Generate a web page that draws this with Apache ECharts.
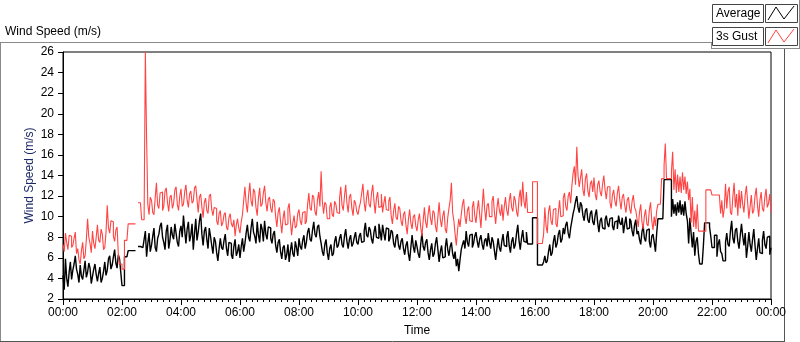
<!DOCTYPE html>
<html>
<head>
<meta charset="utf-8">
<script src="https://cdn.jsdelivr.net/npm/echarts@6/dist/echarts.min.js"></script>
<style>
  html, body { margin: 0; background: #fff; }
  #chart { width: 800px; height: 342px; }
</style>
</head>
<body>
<div id="chart"></div>
<script>
// one reading every 2.5 minutes, 00:00 .. 24:00 (null = gap in the log)
const stepMinutes = 2.5;

const timeLabels = ["00:00", "02:00", "04:00", "06:00", "08:00", "10:00", "12:00",
  "14:00", "16:00", "18:00", "20:00", "22:00", "00:00"];

// one row per hour
const average = [
  4.3, 2.9, 5.9, 4.0, 3.2, 4.6, 5.6, 3.9, 4.8, 5.4, 6.2, 4.9, 4.4, 3.6, 5.3, 4.2, 3.9, 4.8, 5.7, 4.1, 4.6, 5.5, 5.0, 3.5,
  4.2, 4.9, 5.4, 4.4, 3.7, 4.5, 5.1, 3.6, 4.0, 4.7, 5.6, 4.3, 4.8, 5.9, 6.2, 4.9, 5.3, 6.1, 6.8, 5.5, 5.0, 6.3, 5.9, 4.6,
  3.3, 3.3, 6.1, 6.1, 6.1, 6.7, 6.7, 6.7, 6.7, 6.7, 6.7, null, null, 7.1, 7.1, 7.1, 7.0, 7.0, 7.8, 8.6, 6.1, 7.4, 8.4, 6.6,
  7.2, 8.1, 8.9, 7.0, 6.6, 7.9, 8.3, 9.1, 9.4, 8.0, 7.5, 6.8, 8.6, 9.2, 6.9, 7.7, 9.0, 8.2, 7.8, 9.3, 8.4, 7.5, 7.1, 8.6,
  9.1, 8.0, 10.1, 8.7, 7.4, 8.8, 9.5, 7.6, 8.2, 9.3, 6.8, 8.4, 9.8, 7.7, 8.5, 9.6, 10.3, 8.3, 7.2, 8.6, 9.0, 7.8, 6.9, 8.9,
  8.1, 7.2, 6.4, 8.0, 7.6, 6.5, 5.7, 6.9, 7.9, 7.0, 6.8, 7.7, 8.3, 6.9, 6.2, 7.5, 7.4, 6.3, 5.9, 7.1, 7.8, 6.2, 6.6, 7.3,
  6.0, 7.1, 7.9, 6.6, 7.4, 8.4, 9.2, 8.0, 7.6, 8.9, 9.8, 8.5, 8.1, 7.4, 9.5, 8.2, 7.5, 9.3, 8.8, 7.6, 9.6, 8.3, 7.8, 9.0,
  8.9, 7.9, 7.4, 8.3, 8.6, 7.2, 6.5, 7.5, 7.8, 6.6, 5.9, 7.0, 7.2, 5.8, 6.3, 7.3, 5.6, 6.7, 7.5, 6.4, 6.1, 7.6, 7.0, 6.2,
  7.9, 7.1, 6.8, 7.7, 8.2, 6.9, 7.5, 8.5, 8.9, 7.8, 7.6, 8.7, 9.5, 8.3, 8.0, 9.0, 9.2, 8.1, 7.4, 6.6, 6.2, 7.3, 7.8, 6.5,
  5.8, 6.9, 7.3, 6.2, 6.4, 7.6, 8.1, 7.0, 7.2, 7.9, 8.3, 7.3, 7.0, 8.1, 8.8, 7.6, 6.9, 7.8, 8.2, 7.1, 7.4, 8.0, 8.5, 7.5,
  7.3, 8.1, 8.4, 7.5, 7.6, 8.6, 9.4, 8.2, 8.0, 9.0, 8.7, 7.8, 7.4, 8.5, 9.1, 8.0, 7.9, 9.3, 8.6, 7.7, 9.2, 8.4, 7.7, 8.9,
  8.8, 7.6, 7.9, 8.7, 8.5, 7.4, 7.0, 8.0, 8.3, 7.2, 6.8, 7.6, 7.9, 6.9, 6.3, 7.2, 7.6, 6.4, 5.7, 7.0, 8.2, 7.1, 6.5, 7.7,
  7.1, 6.4, 6.0, 7.3, 8.4, 7.1, 6.7, 7.5, 7.8, 6.5, 5.8, 6.8, 7.4, 6.1, 6.4, 7.4, 8.0, 6.8, 5.6, 6.6, 7.2, 6.0, 6.1, 7.0,
  7.9, 6.8, 6.2, 7.1, 7.5, 6.4, 5.9, 6.6, 5.2, 5.9, 4.7, 5.8, 6.8, 7.3, 7.7, 6.9, 8.6, 7.5, 7.1, 8.2, 8.3, 7.0, 7.4, 8.1,
  8.5, 7.6, 7.0, 7.8, 8.2, 7.3, 6.8, 7.7, 7.9, 7.1, 8.4, 7.5, 6.9, 8.0, 7.6, 6.7, 5.8, 6.9, 7.9, 7.0, 6.6, 7.6, 8.3, 7.2,
  7.1, 8.0, 8.6, 7.2, 6.5, 7.6, 8.0, 6.9, 7.3, 8.4, 9.2, 7.7, 6.8, 7.9, 8.7, 7.6, 7.5, 8.5, 7.35, 7.35, 7.35, 7.35, 9.9, 9.9,
  9.9, 9.9, 5.3, 5.3, 5.3, 5.3, 5.3, 5.6, 6.2, 5.5, 5.7, 6.6, 7.3, 6.2, 6.5, 7.6, 8.2, 7.0, 7.4, 8.3, 8.7, 7.5, 7.8, 8.9,
  8.3, 9.2, 9.5, 8.4, 7.9, 8.9, 9.6, 10.3, 10.8, 11.5, 12.0, 10.9, 10.4, 11.4, 11.1, 10.1, 9.6, 10.6, 10.8, 9.7, 9.4, 10.3, 10.6, 9.5,
  9.2, 10.2, 10.7, 9.4, 8.5, 9.6, 9.9, 8.9, 8.8, 9.7, 10.1, 9.3, 9.0, 9.8, 9.9, 9.1, 8.7, 9.5, 9.6, 8.8, 10.1, 9.4, 9.2, 9.9,
  8.4, 9.3, 10.0, 8.8, 8.9, 9.8, 9.6, 8.6, 8.1, 9.2, 9.7, 8.3, 8.6, 7.8, 7.3, 8.5, 9.1, 7.9, 7.6, 8.7, 8.8, 7.6, 7.0, 8.1,
  8.3, 7.5, 6.6, 8.4, 9.8, 9.8, 9.8, 9.8, 9.8, 13.6, 13.6, 13.6, 13.6, 13.6, 13.6, 10.0, 11.7, 10.3, 11.2, 10.1, 11.4, 10.4, 11.6, 10.2,
  11.2, 10.1, 11.5, 10.3, 9.6, 7.4, 9.9, 8.4, 7.0, 8.5, 6.2, 7.6, 8.0, 6.4, 5.4, 5.4, 5.4, 7.2, 9.4, 9.4, 9.4, 9.4, 9.0, 8.1,
  7.0, 7.0, 8.2, 8.2, 6.1, 7.3, 7.8, 6.6, 6.4, 5.7, 5.7, 7.5, 8.4, 7.3, 7.1, 8.6, 9.6, 7.9, 7.4, 8.7, 8.9, 7.6, 6.9, 8.2,
  9.3, 8.1, 7.2, 8.4, 6.0, 7.1, 8.5, 7.3, 6.6, 7.8, 8.8, 7.2, 5.8, 6.9, 7.9, 6.5, 6.4, 7.7, 8.6, 7.3, 6.9, 8.0, 8.1, 6.3,
  7.0
];

const gust = [
  7.3, 6.6, 8.4, 7.5, 6.8, 8.2, 8.1, 7.0, 7.2, 7.9, 8.5, 6.4, 6.9, 5.8, 5.4, 6.7, 7.5, 5.9, 6.2, 7.8, 9.8, 8.0, 7.4, 6.5,
  8.6, 7.4, 6.9, 8.0, 9.2, 7.7, 7.5, 8.8, 8.3, 6.8, 7.0, 8.5, 11.1, 8.9, 8.4, 9.6, 9.5, 8.1, 7.6, 8.7, 9.0, 6.4, 5.4, 5.4,
  4.9, 4.9, 7.7, 7.7, 7.7, 9.3, 9.3, 9.3, 9.3, 9.3, 9.3, null, null, 11.35, 11.35, 11.35, 9.7, 9.7, 10.1, 26.0, 17.7, 11.2, 10.2, 11.9,
  11.6, 10.4, 10.2, 11.8, 13.3, 11.1, 10.8, 12.3, 12.4, 10.6, 11.0, 12.5, 12.8, 11.4, 10.5, 11.9, 12.1, 10.8, 11.3, 12.6, 12.9, 11.2, 10.6, 12.0,
  12.7, 11.0, 11.2, 12.4, 13.1, 11.6, 10.9, 12.2, 12.5, 11.3, 11.5, 12.8, 13.0, 11.7, 10.4, 11.9, 12.2, 10.9, 9.9, 11.4, 11.8, 10.6, 10.3, 12.0,
  12.2, 10.7, 10.1, 10.9, 10.8, 9.6, 9.2, 10.3, 10.6, 9.1, 9.4, 10.2, 10.4, 9.0, 8.7, 9.9, 10.3, 9.3, 9.0, 9.7, 8.1, 9.2, 9.8, 8.9,
  8.4, 9.5, 10.2, 11.6, 12.9, 11.3, 10.4, 12.1, 13.3, 11.5, 11.0, 12.7, 12.4, 10.9, 10.1, 11.8, 12.8, 11.0, 11.2, 12.3, 13.0, 11.4, 10.5, 11.7,
  11.9, 10.8, 10.4, 11.7, 11.5, 10.0, 9.0, 10.4, 10.9, 9.5, 8.4, 9.8, 10.6, 9.2, 9.3, 10.8, 11.3, 9.6, 8.2, 9.4, 10.1, 8.9, 9.1, 10.3,
  10.7, 9.6, 9.2, 10.4, 10.5, 9.3, 9.5, 11.2, 12.3, 10.8, 10.6, 12.1, 11.9, 10.5, 10.1, 11.6, 12.4, 11.0, 14.4, 11.5, 10.3, 11.4, 11.2, 9.8,
  9.8, 10.9, 11.4, 10.2, 10.0, 11.5, 11.2, 10.4, 10.3, 11.8, 12.9, 11.1, 10.6, 12.0, 13.1, 11.3, 10.4, 11.9, 12.2, 10.8, 10.1, 11.6, 11.3, 10.5,
  10.2, 10.9, 11.4, 12.3, 13.2, 11.4, 10.5, 11.9, 12.6, 11.2, 10.9, 12.3, 13.1, 11.5, 10.3, 11.8, 12.4, 10.9, 11.0, 12.2, 10.4, 11.3, 12.0, 10.7,
  10.6, 11.5, 11.9, 10.1, 9.3, 10.6, 11.3, 9.9, 9.7, 11.0, 10.8, 9.6, 9.1, 10.2, 10.5, 9.2, 8.3, 9.7, 10.7, 9.4, 8.8, 10.0, 10.2, 9.1,
  8.6, 9.7, 10.3, 9.0, 8.1, 9.6, 10.9, 9.5, 8.9, 10.2, 11.1, 9.8, 9.2, 10.6, 10.4, 9.1, 8.5, 10.0, 11.4, 9.7, 9.0, 10.1, 10.6, 8.8,
  8.4, 9.9, 10.8, 11.6, 13.3, 10.4, 9.6, 8.3, 7.2, 8.7, 9.8, 9.0, 10.2, 11.2, 11.7, 10.0, 9.3, 10.6, 11.0, 9.6, 9.5, 10.9, 11.5, 10.1,
  9.4, 10.7, 11.6, 10.2, 8.9, 10.9, 12.7, 10.8, 9.6, 11.1, 11.3, 10.0, 10.0, 11.5, 12.0, 10.4, 9.3, 10.8, 11.8, 10.6, 10.1, 11.2, 9.6, 11.0,
  11.9, 10.6, 10.1, 11.5, 12.3, 10.9, 10.5, 12.0, 11.6, 10.5, 10.0, 11.8, 12.6, 11.0, 13.4, 11.5, 10.8, 12.4, 10.4, 10.4, 10.4, 10.4, 13.4, 13.4,
  13.4, 13.4, 7.4, 7.4, 7.4, 7.4, 7.4, 8.3, 10.9, 9.1, 8.4, 10.5, 11.1, 9.6, 9.2, 10.7, 10.8, 9.3, 9.0, 10.4, 11.6, 10.0, 10.1, 11.8,
  12.3, 11.0, 10.6, 12.0, 12.4, 11.3, 13.0, 14.2, 14.9, 13.1, 16.8, 14.0, 12.9, 13.8, 14.6, 12.6, 12.0, 13.7, 14.2, 12.5, 11.9, 13.2, 13.5, 12.4,
  13.8, 12.2, 11.6, 13.1, 13.5, 12.4, 12.0, 13.2, 14.0, 12.6, 11.7, 12.9, 12.9, 11.4, 10.8, 12.1, 12.6, 11.5, 11.0, 12.3, 13.0, 11.6, 10.7, 11.9,
  12.2, 11.1, 10.4, 11.6, 11.9, 10.8, 10.3, 11.5, 12.1, 10.9, 10.6, 9.8, 9.0, 10.4, 11.2, 9.5, 8.8, 10.1, 10.7, 9.3, 9.1, 10.6, 11.4, 9.6,
  8.7, 10.0, 9.1, 10.6, 11.2, 11.2, 11.2, 13.7, 13.7, 15.0, 17.1, 13.7, 13.7, 13.7, 13.7, 14.4, 16.3, 12.6, 14.6, 12.3, 14.1, 12.4, 13.9, 12.3,
  14.3, 12.6, 13.9, 12.2, 13.4, 11.6, 12.7, 9.4, 11.9, 9.0, 10.6, 8.8, 11.2, 8.6, 8.6, 8.6, 8.6, 8.6, 8.6, 12.6, 12.6, 12.6, 12.6, 12.6,
  12.1, 12.1, 12.1, 12.1, 12.1, 12.1, 12.1, 10.3, 11.6, 9.9, 10.8, 13.2, 10.8, 12.4, 12.9, 10.4, 10.2, 12.0, 13.3, 10.9, 12.2, 10.1, 12.6, 10.8,
  12.5, 11.2, 10.4, 12.1, 13.0, 11.4, 9.8, 11.0, 12.1, 10.3, 10.6, 12.0, 12.8, 11.1, 10.0, 11.6, 12.4, 10.8, 10.5, 11.9, 12.7, 10.9, 11.3, 12.2,
  10.4
];

// [minutes since midnight, value]
const toPairs = (arr) => arr.map((v, i) => [i * stepMinutes, v]);

const font = "Liberation Sans, Arial, sans-serif";
const chart = echarts.init(document.getElementById("chart"));

chart.setOption({
  animation: false,
  backgroundColor: "#fff",
  textStyle: { fontFamily: font },
  grid: {
    left: 63, right: 29, top: 52, bottom: 40,
    show: true, borderColor: "#000", borderWidth: 1,
  },
  xAxis: {
    type: "value",
    min: 0, max: 1440, interval: 120,
    name: "Time",
    nameLocation: "middle",
    nameGap: 26,
    nameMoveOverlap: false,
    nameTextStyle: { color: "#000", fontSize: 12, fontFamily: font },
    axisLine: { show: true, lineStyle: { color: "#000", width: 1 } },
    axisTick: { show: true, length: 6, lineStyle: { color: "#000" } },
    minorTick: { show: true, splitNumber: 10, length: 3, lineStyle: { color: "#000" } },
    axisLabel: {
      color: "#000", fontSize: 12, margin: 8, fontFamily: font,
      formatter: (v) => timeLabels[Math.round(v / 120)],
    },
    splitLine: { show: false },
  },
  yAxis: {
    type: "value",
    min: 2, max: 26, interval: 2,
    name: "Wind Speed (m/s)",
    nameLocation: "middle",
    nameGap: 27,
    nameMoveOverlap: false,
    nameTextStyle: { color: "#1c2a66", fontSize: 12, fontFamily: font },
    axisLine: { show: true, lineStyle: { color: "#000", width: 1 } },
    axisTick: { show: true, length: 5, lineStyle: { color: "#000" } },
    axisLabel: { color: "#000", fontSize: 12, margin: 9, fontFamily: font },
    splitLine: { show: false },
  },
  series: [
    {
      name: "Average",
      type: "line",
      step: "end",
      showSymbol: false,
      data: toPairs(average),
      lineStyle: { color: "#000", width: 1.4 },
      z: 2,
    },
    {
      name: "3s Gust",
      type: "line",
      step: "end",
      showSymbol: false,
      data: toPairs(gust),
      lineStyle: { color: "#ff4444", width: 1.1 },
      z: 3,
    },
  ],
  // frame, caption and legend boxes in the LabVIEW style
  graphic: [
    { type: "text", left: 5, top: 26, style: { text: "Wind Speed (m/s)", fill: "#000", font: "12px " + font } },
    { type: "line", shape: { x1: 0, y1: 42.5, x2: 712, y2: 42.5 }, style: { stroke: "#8a8a8a", lineWidth: 1 } },
    { type: "line", shape: { x1: 0.5, y1: 42, x2: 0.5, y2: 342 }, style: { stroke: "#8a8a8a", lineWidth: 1 } },
    { type: "line", shape: { x1: 784.5, y1: 48, x2: 784.5, y2: 342 }, style: { stroke: "#555", lineWidth: 1 } },
    { type: "line", shape: { x1: 0, y1: 341.5, x2: 785, y2: 341.5 }, style: { stroke: "#555", lineWidth: 1 } },
    { type: "line", shape: { x1: 711.5, y1: 42, x2: 711.5, y2: 48 }, style: { stroke: "#8a8a8a", lineWidth: 1 } },
    { type: "line", shape: { x1: 711, y1: 48.5, x2: 800, y2: 48.5 }, style: { stroke: "#8a8a8a", lineWidth: 1 } },
    { type: "line", shape: { x1: 799.5, y1: 0, x2: 799.5, y2: 49 }, style: { stroke: "#8a8a8a", lineWidth: 1 } },

    { type: "rect", shape: { x: 712.5, y: 4.5, width: 51, height: 18 }, style: { fill: "#fff", stroke: "#444", lineWidth: 1 } },
    { type: "text", x: 716, y: 14, style: { text: "Average", fill: "#000", font: "12px " + font, verticalAlign: "middle" } },
    { type: "rect", shape: { x: 765.5, y: 4.5, width: 32, height: 18 }, style: { fill: "#fff", stroke: "#444", lineWidth: 1 } },
    { type: "polyline", shape: { points: [[768, 20], [776, 7], [784, 19], [794, 6]] }, style: { stroke: "#000", lineWidth: 1, fill: null } },

    { type: "rect", shape: { x: 712.5, y: 27.5, width: 51, height: 18 }, style: { fill: "#fff", stroke: "#444", lineWidth: 1 } },
    { type: "text", x: 716, y: 37, style: { text: "3s Gust", fill: "#000", font: "12px " + font, verticalAlign: "middle" } },
    { type: "rect", shape: { x: 765.5, y: 27.5, width: 32, height: 18 }, style: { fill: "#fff", stroke: "#444", lineWidth: 1 } },
    { type: "polyline", shape: { points: [[768, 43], [776, 30], [784, 42], [794, 29]] }, style: { stroke: "#ff4444", lineWidth: 1, fill: null } },
  ],
});
</script>
</body>
</html>
